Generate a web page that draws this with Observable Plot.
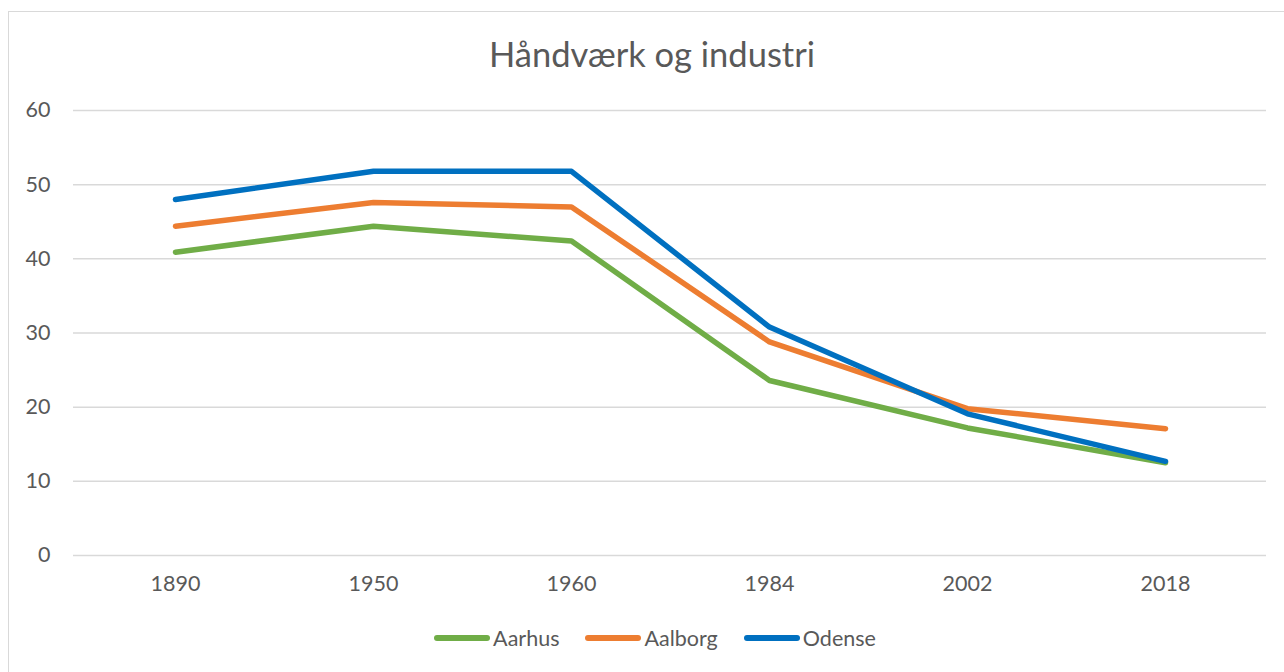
<!DOCTYPE html>
<html>
<head>
<meta charset="utf-8">
<script src="https://cdn.jsdelivr.net/npm/d3@7"></script>
<script src="https://cdn.jsdelivr.net/npm/@observablehq/plot@0.6"></script>
<style>
  html, body { margin: 0; padding: 0; background: #fff; }
  body { width: 1284px; height: 672px; overflow: hidden; position: relative; font-family: Lato, "Open Sans", sans-serif; color: #595959; }
  #frame { position: absolute; left: 8px; top: 11px; width: 1300px; height: 700px; border: 1.5px solid #d9d9d9; box-sizing: border-box; }
  #title { position: absolute; left: 20px; top: 0; width: 1264px; height: 90px; text-align: center; font-size: 34.5px; line-height: 108px; color: #595959; }
  #chart { position: absolute; left: 0; top: 90px; }
  #legend { position: absolute; left: 26px; top: 610px; width: 1258px; height: 56px; display: flex; justify-content: center; align-items: center; font-size: 21.5px; color: #595959; }
  .item { display: flex; align-items: center; margin: 0 13px; }
  .sw { width: 56px; height: 5.5px; border-radius: 3px; margin-right: 3px; }
</style>
</head>
<body>
<div id="frame"></div>
<div id="title">Håndværk og industri</div>
<div id="chart"></div>
<div id="legend"></div>
<script>
const years = ["1890", "1950", "1960", "1984", "2002", "2018"];
const aarhus = [40.9, 44.4, 42.4, 23.6, 17.2, 12.5];
const aalborg = [44.4, 47.6, 47.0, 28.8, 19.8, 17.1];
const odense = [48.0, 51.8, 51.8, 30.8, 19.1, 12.7];
const seriesNames = ["Aarhus", "Aalborg", "Odense"];
const seriesColors = ["#70ad47", "#ed7d31", "#0070c0"];
const yTicks = [0, 10, 20, 30, 40, 50, 60];

const seriesValues = [aarhus, aalborg, odense];
const data = [];
seriesNames.forEach((name, si) => {
  years.forEach((yr, i) => data.push({ series: name, year: yr, value: seriesValues[si][i] }));
});

const chart = Plot.plot({
  width: 1284,
  height: 520,
  marginTop: 20,
  marginBottom: 55,
  marginLeft: 73,
  marginRight: 18,
  style: { fontFamily: "Lato, 'Open Sans', sans-serif", fontSize: "21.5px", color: "#595959", background: "transparent" },
  x: { type: "point", domain: years, padding: 0.5, label: null },
  y: { domain: [0, 60], label: null },
  color: { domain: seriesNames, range: seriesColors },
  marks: [
    Plot.ruleY(yTicks, { stroke: "#d9d9d9", strokeWidth: 1.5 }),
    Plot.axisY({ ticks: yTicks, tickSize: 0, tickPadding: 23, label: null, fontSize: 21.5 }),
    Plot.axisX({ tickSize: 0, tickPadding: 20, label: null, fontSize: 21.5 }),
    Plot.line(data, { x: "year", y: "value", z: "series", stroke: "series", strokeWidth: 5.5, strokeLinecap: "round", strokeLinejoin: "round" })
  ]
});
document.getElementById("chart").appendChild(chart);

const legend = document.getElementById("legend");
seriesNames.forEach((name, i) => {
  const item = document.createElement("div");
  item.className = "item";
  const sw = document.createElement("div");
  sw.className = "sw";
  sw.style.background = seriesColors[i];
  const lab = document.createElement("span");
  lab.textContent = name;
  item.appendChild(sw);
  item.appendChild(lab);
  legend.appendChild(item);
});
</script>
</body>
</html>
